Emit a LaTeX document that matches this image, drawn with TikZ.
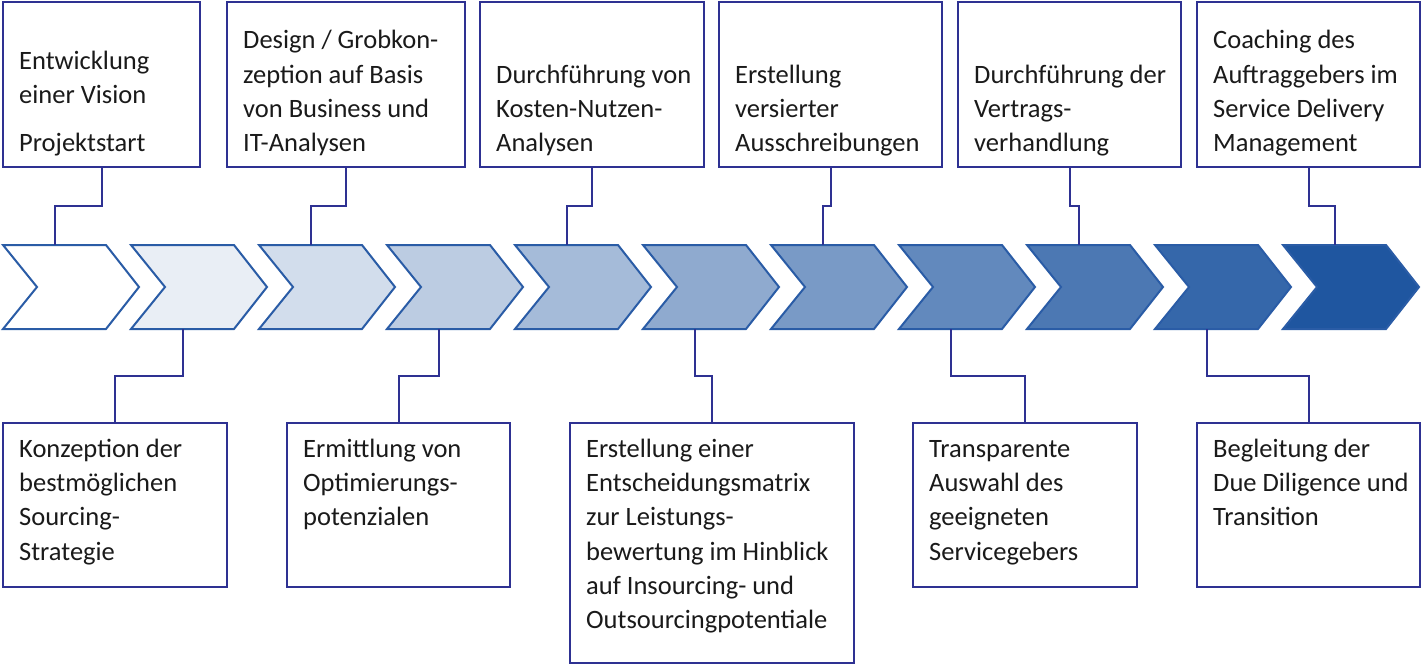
\documentclass[tikz,border=0pt]{standalone}
\usepackage{fontspec}
\setmainfont{Carlito}
\usetikzlibrary{calc}
\definecolor{boxc}{HTML}{2E3192}
\definecolor{chevb}{HTML}{2A5CA6}
\definecolor{chevf}{HTML}{1F56A0}
\definecolor{txtc}{HTML}{1A1A1A}
\begin{document}
\begin{tikzpicture}[x=1pt,y=-1pt,
  box/.style={draw=boxc,line width=2pt,fill=white,inner sep=0pt,outer sep=0pt},
  lbl/.style={font=\fontsize{26.5}{34.3}\selectfont,text=txtc,align=left,inner sep=0pt},
  conn/.style={draw=boxc,line width=2pt},
  chev/.style={draw=chevb,line width=2pt,line join=miter}]
\useasboundingbox (0,0) rectangle (1425,666);

% top boxes
\node[box,minimum width=197,minimum height=165] (t1) at (101.5,84.5) {};
\node[box,minimum width=238,minimum height=165] (t2) at (346,84.5) {};
\node[box,minimum width=224,minimum height=165] (t3) at (592,84.5) {};
\node[box,minimum width=223,minimum height=165] (t4) at (830.5,84.5) {};
\node[box,minimum width=223,minimum height=165] (t5) at (1069.5,84.5) {};
\node[box,minimum width=223,minimum height=165] (t6) at (1308.5,84.5) {};

\node[lbl,anchor=south west] (l1) at (19,162.3) {\strut Entwicklung\\einer Vision\\[14pt]Projektstart\strut};
\node[lbl,anchor=south west] (l2) at (243,162.3) {\strut Design / Grobkon-\\zeption auf Basis\\von Business und\\IT-Analysen\strut};
\node[lbl,anchor=south west] (l3) at (496,162.3) {\strut Durchführung von\\Kosten-Nutzen-\\Analysen\strut};
\node[lbl,anchor=south west] (l4) at (735,162.3) {\strut Erstellung\\versierter\\Ausschreibungen\strut};
\node[lbl,anchor=south west] (l5) at (974,162.3) {\strut Durchführung der\\Vertrags-\\verhandlung\strut};
\node[lbl,anchor=south west] (l6) at (1213,162.3) {\strut Coaching des\\Auftraggebers im\\Service Delivery\\Management\strut};

% bottom boxes
\node[box,minimum width=224,minimum height=164] (b1) at (115,505) {};
\node[box,minimum width=223,minimum height=164] (b2) at (398.5,505) {};
\node[box,minimum width=284,minimum height=240] (b3) at (712,543) {};
\node[box,minimum width=224,minimum height=164] (b4) at (1025,505) {};
\node[box,minimum width=223,minimum height=164] (b5) at (1308.5,505) {};

\node[lbl,anchor=north west] (m1) at (19,433) {\strut Konzeption der\\bestmöglichen\\Sourcing-\\Strategie\strut};
\node[lbl,anchor=north west] (m2) at (303,433) {\strut Ermittlung von\\Optimierungs-\\potenzialen\strut};
\node[lbl,anchor=north west] (m3) at (586,433) {\strut Erstellung einer\\Entscheidungsmatrix\\zur Leistungs-\\bewertung im Hinblick\\auf Insourcing- und\\Outsourcingpotentiale\strut};
\node[lbl,anchor=north west] (m4) at (929,433) {\strut Transparente\\Auswahl des\\geeigneten\\Servicegebers\strut};
\node[lbl,anchor=north west] (m5) at (1213,433) {\strut Begleitung der\\Due Diligence und\\Transition\strut};

% chevrons
\foreach \i in {1,...,11}{
  \pgfmathsetmacro\L{3+128*(\i-1)}
  \pgfmathtruncatemacro\p{(\i-1)*10}
  \draw[chev,fill=chevf!\p!white] (\L,245) -- ++(103,0) -- ++(33,42) -- ++(-33,42) -- ++(-103,0) -- ++(34,-42) -- cycle;
  \coordinate (kt\i) at (\L+52,245);
  \coordinate (kb\i) at (\L+52,329);
}

% connectors top
\draw[conn] (t1.south) |- ($(t1.south)!0.5!(kt1)$) -| (kt1);
\draw[conn] (t2.south) |- ($(t2.south)!0.5!(kt3)$) -| (kt3);
\draw[conn] (t3.south) |- ($(t3.south)!0.5!(kt5)$) -| (kt5);
\draw[conn] (t4.south) |- ($(t4.south)!0.5!(kt7)$) -| (kt7);
\draw[conn] (t5.south) |- ($(t5.south)!0.5!(kt9)$) -| (kt9);
\draw[conn] (t6.south) |- ($(t6.south)!0.5!(kt11)$) -| (kt11);

% connectors bottom
\draw[conn] (kb2) |- ($(kb2)!0.5!(b1.north)$) -| (b1.north);
\draw[conn] (kb4) |- ($(kb4)!0.5!(b2.north)$) -| (b2.north);
\draw[conn] (kb6) |- ($(kb6)!0.5!(b3.north)$) -| (b3.north);
\draw[conn] (kb8) |- ($(kb8)!0.5!(b4.north)$) -| (b4.north);
\draw[conn] (kb10) |- ($(kb10)!0.5!(b5.north)$) -| (b5.north);
\end{tikzpicture}
\end{document}
